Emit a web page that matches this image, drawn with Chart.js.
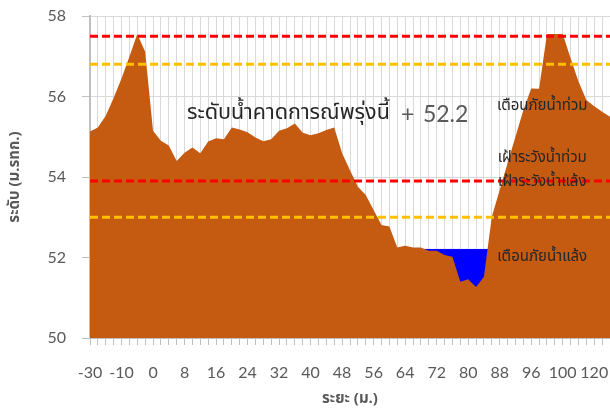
<!DOCTYPE html>
<html>
<head>
<meta charset="utf-8">
<script src="https://cdn.jsdelivr.net/npm/chart.js@4/dist/chart.umd.min.js"></script>
<style>
    html, body { margin: 0; padding: 0; background: #fff; }
    #wrap { width: 610px; height: 414px; }
</style>
</head>
<body>
<div id="wrap"><canvas id="section_chart"></canvas></div>
<script>
// distance along the section (m.), only every 4th one is labelled on the axis
const distances = [
    -30, -25, -20, -15, -10, -7.5, -5, -2.5, 0, 2,
    4, 6, 8, 10, 12, 14, 16, 18, 20, 22,
    24, 26, 28, 30, 32, 34, 36, 38, 40, 42,
    44, 46, 48, 50, 52, 54, 56, 58, 60, 62,
    64, 66, 68, 70, 72, 74, 76, 78, 80, 82,
    84, 86, 88, 90, 92, 94, 96, 97, 98, 99,
    100, 105, 110, 115, 120, 125, 130
];

// ground level (ม.รทก.)
const groundLevel = [
    55.13, 55.23, 55.52, 55.96, 56.45, 56.99, 57.55, 57.11, 55.15, 54.90,
    54.78, 54.40, 54.60, 54.73, 54.59, 54.88, 54.96, 54.94, 55.23, 55.18,
    55.11, 54.98, 54.89, 54.94, 55.15, 55.21, 55.33, 55.10, 55.04, 55.09,
    55.17, 55.23, 54.59, 54.17, 53.76, 53.55, 53.18, 52.81, 52.77, 52.25,
    52.29, 52.25, 52.25, 52.17, 52.17, 52.06, 52.02, 51.40, 51.46, 51.27,
    51.52, 53.01, 53.68, 54.34, 55.00, 55.66, 56.20, 56.19, 57.55, 57.55,
    57.55, 56.95, 56.37, 55.91, 55.76, 55.62, 55.50
];

// forecast water level for tomorrow
const waterLevel = 52.2;
const waterFrom = 42;
const waterTo = 51;

// warning levels
const floodWarning = 57.5;
const floodWatch = 56.8;
const droughtWatch = 53.9;
const droughtWarning = 53.0;

const thaiFont = "'Noto Sans Thai', 'Noto Sans', 'Leelawadee UI', Tahoma, sans-serif";
const numFont = "Lato, 'Noto Sans', sans-serif";

const levelLine = (value, color) => ({
    data: distances.map(() => value),
    borderColor: color,
    borderWidth: 3,
    borderDash: [8, 4],
    pointRadius: 0,
    fill: false,
});

const labelsPlugin = {
    id: 'sectionLabels',
    afterDatasetsDraw(chart) {
        const ctx = chart.ctx;
        const x = chart.scales.x;
        const y = chart.scales.y;

        ctx.save();
        ctx.textBaseline = 'middle';

        // forecast text
        ctx.textAlign = 'left';
        ctx.font = '21.5px ' + thaiFont;
        ctx.fillStyle = '#262626';
        let tx = x.getPixelForValue(12.3);
        let ty = y.getPixelForValue(55.54);
        ctx.fillText('ระดับน้ำคาดการณ์พรุ่งนี้', tx, ty);
        ctx.font = '23px ' + numFont;
        ctx.fillStyle = '#595959';
        ctx.fillText('+', tx + 214, ty);
        ctx.fillText(waterLevel.toFixed(1), tx + 236, ty);

        // warning level names
        ctx.textAlign = 'center';
        ctx.font = '15px ' + thaiFont;
        ctx.fillStyle = '#262626';
        const cx = x.getPixelForValue(57.4);
        ctx.fillText('เตือนภัยน้ำท่วม', cx, y.getPixelForValue(55.75));
        ctx.fillText('เฝ้าระวังน้ำท่วม', cx, y.getPixelForValue(54.45));
        ctx.fillText('เฝ้าระวังน้ำแล้ง', cx, y.getPixelForValue(53.84));
        ctx.fillText('เตือนภัยน้ำแล้ง', cx, y.getPixelForValue(51.98));

        ctx.restore();
    }
};

new Chart('section_chart', {
    type: 'line',
    data: {
        labels: distances,
        datasets: [
            levelLine(floodWarning, '#FF0000'),
            levelLine(floodWatch, '#FFC000'),
            levelLine(droughtWatch, '#FF0000'),
            levelLine(droughtWarning, '#FFC000'),
            {
                label: 'ground',
                data: groundLevel,
                borderColor: '#C55A11',
                borderWidth: 0,
                backgroundColor: '#C55A11',
                pointRadius: 0,
                fill: 'origin',
                tension: 0,
            },
            {
                label: 'water',
                data: distances.map((d, i) => (i >= waterFrom && i <= waterTo) ? waterLevel : null),
                borderColor: '#0000FF',
                borderWidth: 1,
                backgroundColor: '#0000FF',
                pointRadius: 0,
                fill: 'origin',
                spanGaps: false,
            },
        ]
    },
    options: {
        responsive: true,
        maintainAspectRatio: false,
        animation: false,
        events: [],
        layout: {
            padding: { top: 16, right: 0, bottom: 0, left: 0 }
        },
        plugins: {
            legend: { display: false },
            tooltip: { enabled: false },
        },
        scales: {
            x: {
                type: 'category',
                offset: false,
                grid: {
                    color: '#D9D9D9',
                    lineWidth: 1,
                    tickLength: 7,
                    tickColor: '#BFBFBF',
                },
                border: { color: '#BFBFBF', width: 2 },
                ticks: {
                    autoSkip: false,
                    maxRotation: 0,
                    padding: 18,
                    color: '#595959',
                    font: { family: numFont, size: 16 },
                    callback: (value, index) => index % 4 === 0 ? distances[index] : '',
                },
                title: {
                    display: true,
                    text: 'ระยะ (ม.)',
                    color: '#595959',
                    font: { family: thaiFont, size: 15, weight: 'bold' },
                    padding: { top: 0, bottom: 5 },
                },
                afterFit(scale) {
                    scale.height = 76;
                    scale.paddingLeft = 0;
                    scale.paddingRight = 0;
                },
            },
            y: {
                min: 50,
                max: 58,
                ticks: {
                    stepSize: 2,
                    padding: 16,
                    color: '#595959',
                    font: { family: numFont, size: 16 },
                },
                grid: {
                    color: '#D9D9D9',
                    lineWidth: 1,
                    tickLength: 8,
                    tickColor: '#BFBFBF',
                },
                border: { color: '#BFBFBF', width: 2 },
                title: {
                    display: true,
                    text: 'ระดับ (ม.รทก.)',
                    color: '#595959',
                    font: { family: thaiFont, size: 15, weight: 'bold' },
                    padding: { top: 7, bottom: 0 },
                },
                afterFit(scale) {
                    scale.width = 90;
                    scale.paddingTop = 0;
                    scale.paddingBottom = 0;
                },
            },
        },
    },
    plugins: [labelsPlugin],
});
</script>
</body>
</html>
